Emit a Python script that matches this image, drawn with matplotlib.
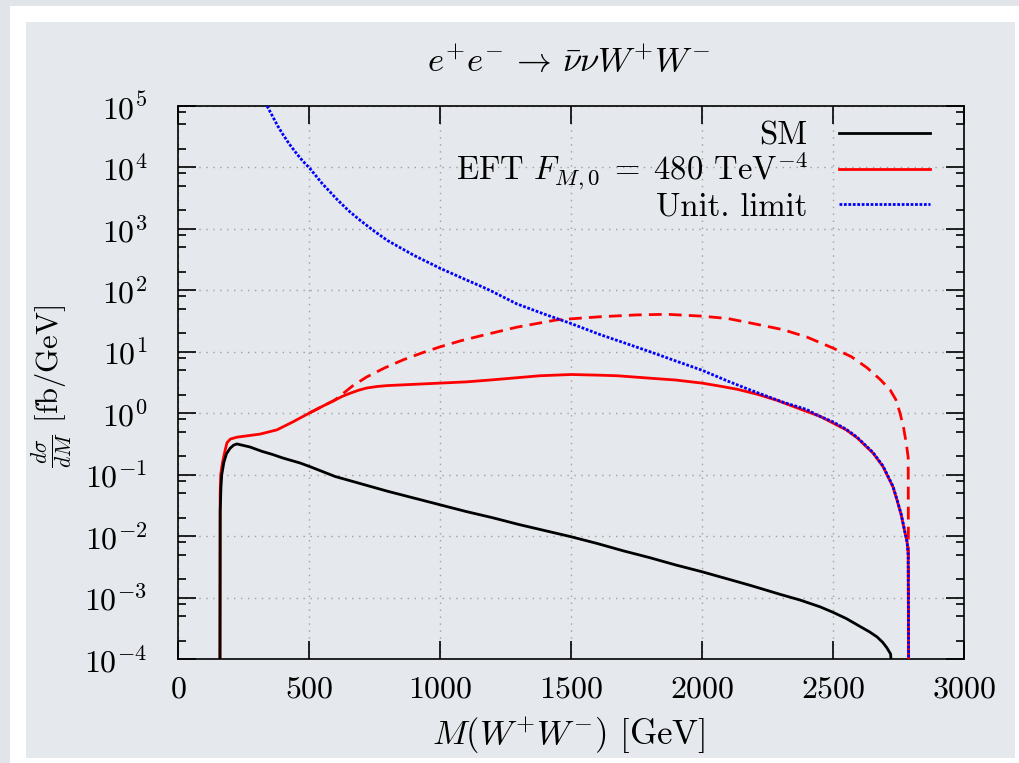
import matplotlib
matplotlib.use("Agg")
import matplotlib.pyplot as plt
from matplotlib.patches import Rectangle
from matplotlib.ticker import LogLocator, NullFormatter, FixedLocator
import numpy as np

plt.rcParams['font.family'] = 'serif'
plt.rcParams['font.serif'] = ['cmr10']
plt.rcParams['mathtext.fontset'] = 'cm'
plt.rcParams['axes.formatter.use_mathtext'] = True
plt.rcParams['axes.unicode_minus'] = False

# M(WW) in GeV, log10 of dsigma/dM in fb/GeV
sm_m = [160, 161, 164, 167, 175, 185, 199, 212, 225, 245, 275, 320, 360, 401, 466, 504,
        600, 700, 800, 900, 1000, 1100, 1200, 1300, 1400, 1500, 1600, 1700, 1800,
        1900, 2000, 2100, 2183, 2300, 2374, 2450, 2500, 2550, 2603, 2640, 2668,
        2690, 2706, 2720, 2729]
sm_log = [-4.6, -1.6, -1.2, -1.0, -0.8, -0.66, -0.57, -0.52, -0.50, -0.52, -0.55, -0.62,
          -0.67, -0.73, -0.81, -0.87, -1.03, -1.15, -1.27, -1.38, -1.49, -1.60,
          -1.70, -1.81, -1.91, -2.01, -2.12, -2.24, -2.35, -2.47, -2.58, -2.70,
          -2.80, -2.95, -3.04, -3.15, -3.24, -3.34, -3.47, -3.56, -3.64, -3.73,
          -3.82, -3.92, -4.6]

eft_m = [160, 161, 163, 170, 180, 187, 200, 225, 260, 313, 378, 439, 500, 550, 597,
         630, 660, 690, 720, 760, 800, 900, 1000, 1100, 1190, 1300, 1382, 1500, 1600,
         1676, 1802, 1900, 2000, 2070, 2134, 2210, 2286, 2386, 2450, 2500, 2550, 2592,
         2653, 2691, 2729, 2744, 2760, 2775, 2783, 2787, 2789]
eft_log = [-4.6, -1.3, -1.0, -0.8, -0.6, -0.48, -0.42, -0.39, -0.37, -0.34, -0.27,
           -0.14, 0.0, 0.11, 0.21, 0.28, 0.33, 0.375, 0.41, 0.435, 0.45, 0.47, 0.49,
           0.51, 0.54, 0.58, 0.61, 0.63, 0.62, 0.61, 0.57, 0.54, 0.49, 0.44, 0.39,
           0.31, 0.21, 0.05, -0.05, -0.16, -0.27, -0.40, -0.65, -0.87, -1.2, -1.41,
           -1.65, -1.95, -2.1, -2.3, -4.6]

nocut_m = [500, 550, 597, 630, 665, 720, 790, 860, 930, 1000, 1080, 1165, 1293, 1447,
           1611, 1750, 1866, 2000, 2100, 2183, 2309, 2400, 2500, 2570, 2630, 2680,
           2718, 2740, 2756, 2770, 2780, 2787, 2789]
nocut_log = [0.0, 0.11, 0.21, 0.32, 0.44, 0.59, 0.74, 0.87, 0.98, 1.08, 1.18, 1.27,
             1.40, 1.52, 1.57, 1.60, 1.61, 1.58, 1.54, 1.47, 1.36, 1.24, 1.06, 0.92,
             0.74, 0.55, 0.38, 0.22, 0.0, -0.25, -0.5, -0.72, -4.6]

unit_m = [340, 360, 380, 400, 425, 450, 475, 504, 550, 607, 650, 695, 750, 800, 900,
          1000, 1100, 1165, 1200, 1293, 1400, 1500, 1611, 1700, 1802, 1900, 2000,
          2100, 2183, 2309, 2400, 2439, 2500, 2550, 2592, 2653, 2691, 2729, 2744,
          2760, 2775, 2783, 2787, 2789]
unit_log = [5.0, 4.84, 4.68, 4.54, 4.38, 4.24, 4.11, 3.98, 3.74, 3.48, 3.30, 3.14,
            2.96, 2.81, 2.57, 2.36, 2.17, 2.05, 1.98, 1.78, 1.61, 1.46, 1.28, 1.15,
            1.0, 0.85, 0.70, 0.52, 0.38, 0.18, 0.06, -0.03, -0.14, -0.26, -0.39,
            -0.64, -0.86, -1.19, -1.40, -1.64, -1.94, -2.1, -2.3, -4.6]

x_ticks = [0, 500, 1000, 1500, 2000, 2500, 3000]

W, H = 1020, 763
fig = plt.figure(figsize=(W / 100, H / 100), dpi=100)
fig.patch.set_facecolor('#e1e4e8')
fig.patches.append(Rectangle((10 / W, 0), 1, 1 - 6 / H, transform=fig.transFigure,
                             facecolor='white', edgecolor='none', zorder=-3))
fig.patches.append(Rectangle((26 / W, 5 / H), (1015 - 26) / W, (758 - 22) / H,
                             transform=fig.transFigure, facecolor='#e5e8ec',
                             edgecolor='none', zorder=-2))

ax = fig.add_axes([178 / W, 1 - 659 / H, 786 / W, 553 / H])
ax.set_facecolor('none')

ax.plot(sm_m, 10 ** np.array(sm_log), color='black', lw=2.0, label='SM', zorder=4)
ax.plot(eft_m, 10 ** np.array(eft_log), color='#ff0000', lw=2.0,
        label=r'EFT $F_{M,0}\;=\;480$ TeV$^{-4}$', zorder=3)
ax.plot(nocut_m, 10 ** np.array(nocut_log), color='#ff0000', lw=2.0,
        ls=(0, (4.6, 2.6)), zorder=3)
ax.plot(unit_m, 10 ** np.array(unit_log), color='#0000ff', lw=2.0,
        ls=(0, (1.0, 0.6)), label='Unit. limit', zorder=5)

ax.set_yscale('log')
ax.set_xlim(0, 3000)
ax.set_ylim(1e-4, 1e5)
ax.xaxis.set_major_locator(FixedLocator(x_ticks))
ax.yaxis.set_major_locator(LogLocator(base=10, numticks=20))
ax.yaxis.set_minor_locator(LogLocator(base=10, subs=[2, 5, 8], numticks=20))
ax.yaxis.set_minor_formatter(NullFormatter())

ax.tick_params(which='both', direction='in', top=True, right=True, width=1.2)
ax.tick_params(which='major', length=13, labelsize=23)
ax.tick_params(which='minor', length=6)
ax.tick_params(axis='x', pad=12)
ax.tick_params(axis='y', pad=22)
for s in ax.spines.values():
    s.set_linewidth(1.2)

ax.grid(True, which='major', color='#a0a0a0', lw=1.0, ls=(0, (1, 4)))

leg = ax.legend(loc='upper right', bbox_to_anchor=((930 - 178) / 786, (659 - 121) / 553),
                frameon=False, markerfirst=False, fontsize=23.5, handlelength=2.8,
                handletextpad=0.95, labelspacing=0.0, borderaxespad=0, borderpad=0)

fig.text(569 / W, 1 - 63 / H, r'$e^{+}e^{-} \,\rightarrow\, \bar{\nu}\nu W^{+}W^{-}$',
         ha='center', va='center', fontsize=25)
fig.text(569 / W, 1 - 736 / H, r'$M(W^{+}W^{-})$ [GeV]', ha='center', va='center',
         fontsize=25)
fig.text(52 / W, 1 - 386 / H, r'$\frac{d\sigma}{dM}$ [fb/GeV]', ha='center',
         va='center', rotation=90, fontsize=22)

fig.savefig('out.png', dpi=100, facecolor=fig.get_facecolor())
